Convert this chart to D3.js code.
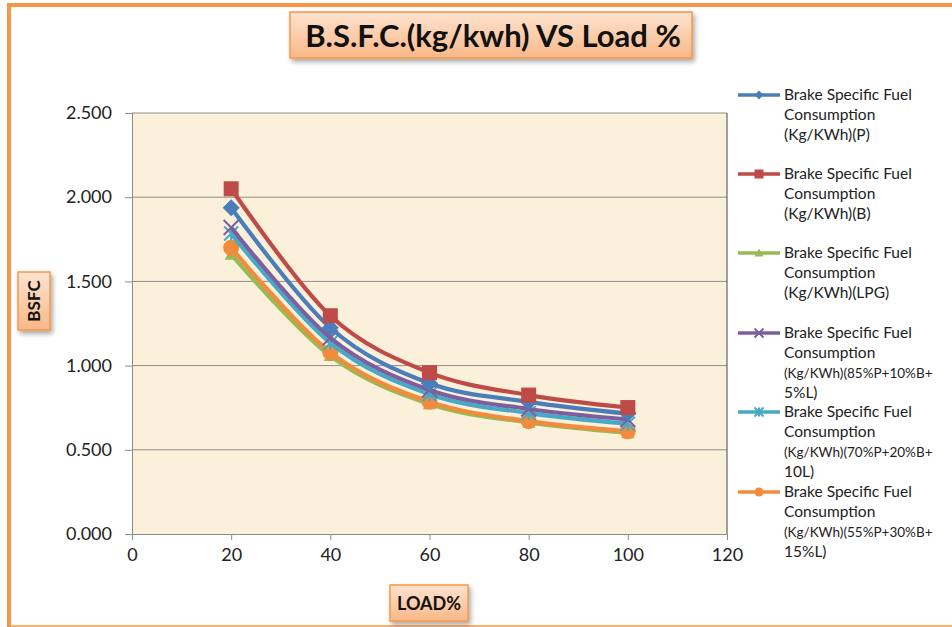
<!DOCTYPE html>
<html>
<head>
<meta charset="utf-8">
<script src="https://cdn.jsdelivr.net/npm/d3@7"></script>
<style>
  body { margin: 0; background: #fff; }
  svg { display: block; font-family: Lato, "Open Sans", sans-serif; }
</style>
</head>
<body>
<svg width="952" height="627"></svg>
<script>
// chart data
var loads = [20, 40, 60, 80, 100];
var bsfcP = [1.938, 1.225, 0.895, 0.785, 0.715];
var bsfcB = [2.050, 1.296, 0.958, 0.825, 0.751];
var bsfcLPG = [1.660, 1.058, 0.772, 0.662, 0.600];
var bsfc85 = [1.820, 1.165, 0.855, 0.742, 0.680];
var bsfc70 = [1.784, 1.135, 0.830, 0.718, 0.655];
var bsfc55 = [1.700, 1.078, 0.785, 0.670, 0.610];
var seriesNames = [
  ["Brake Specific Fuel", "Consumption", "(Kg/KWh)(P)"],
  ["Brake Specific Fuel", "Consumption", "(Kg/KWh)(B)"],
  ["Brake Specific Fuel", "Consumption", "(Kg/KWh)(LPG)"],
  ["Brake Specific Fuel", "Consumption", "(Kg/KWh)(85%P+10%B+", "5%L)"],
  ["Brake Specific Fuel", "Consumption", "(Kg/KWh)(70%P+20%B+", "10L)"],
  ["Brake Specific Fuel", "Consumption", "(Kg/KWh)(55%P+30%B+", "15%L)"]
];
var xTicks = [0, 20, 40, 60, 80, 100, 120];
var yTicks = [0, 0.5, 1, 1.5, 2, 2.5];

var colors = ["#4A7EBB", "#BE4B48", "#98B954", "#7D5FA0", "#46AAC5", "#F38B3C"];
var markers = ["diamond", "square", "triangle", "cross", "asterisk", "circle"];
var allSeries = [bsfcP, bsfcB, bsfcLPG, bsfc85, bsfc70, bsfc55];
// draw order: bottom to top like the picture (B on top)
var drawOrder = [2, 5, 4, 3, 0, 1];

var svg = d3.select("svg");
var defs = svg.append("defs");

var tg = defs.append("linearGradient").attr("id", "boxGrad")
  .attr("x1", 0).attr("y1", 0).attr("x2", 0).attr("y2", 1);
tg.append("stop").attr("offset", "0%").attr("stop-color", "#FDE3CF");
tg.append("stop").attr("offset", "100%").attr("stop-color", "#F9B888");

var sh = defs.append("filter").attr("id", "shadow")
  .attr("x", "-20%").attr("y", "-20%").attr("width", "140%").attr("height", "160%");
sh.append("feDropShadow").attr("dx", 2).attr("dy", 3).attr("stdDeviation", 2.5)
  .attr("flood-color", "#000").attr("flood-opacity", 0.35);

// outer chart frame
svg.append("rect")
  .attr("x", 9).attr("y", 5).attr("width", 960).attr("height", 625)
  .attr("fill", "#fff").attr("stroke", "#F79646").attr("stroke-width", 4);
svg.append("line").attr("x1", 9).attr("x2", 952).attr("y1", 626).attr("y2", 626)
  .attr("stroke", "#F79646").attr("stroke-width", 1.5);

var margin = { top: 113, left: 132 },
  width = 727 - 132,
  height = 534 - 113;

var x = d3.scaleLinear().domain([0, 120]).range([0, width]);
var y = d3.scaleLinear().domain([0, 2.5]).range([height, 0]);

var g = svg.append("g")
  .attr("transform", "translate(" + margin.left + "," + margin.top + ")");

g.append("rect")
  .attr("width", width).attr("height", height)
  .attr("fill", "#FBF0DA");

// gridlines
g.append("g")
  .selectAll("line")
  .data(yTicks.slice(1))
  .enter()
  .append("line")
  .attr("x1", 0).attr("x2", width)
  .attr("y1", function(d) { return y(d); })
  .attr("y2", function(d) { return y(d); })
  .attr("stroke", "#8C8C8C").attr("stroke-width", 1);

g.append("line").attr("x1", width).attr("x2", width).attr("y1", 0).attr("y2", height)
  .attr("stroke", "#444").attr("stroke-width", 1);

var yAxis = g.append("g")
  .call(d3.axisLeft(y).tickValues(yTicks).tickFormat(d3.format(".3f")).tickSize(6).tickPadding(14));
var xAxis = g.append("g")
  .attr("transform", "translate(0," + height + ")")
  .call(d3.axisBottom(x).tickValues(xTicks).tickSize(6).tickPadding(8));

[yAxis, xAxis].forEach(function(a) {
  a.select(".domain").attr("stroke", "#8C8C8C");
  a.selectAll(".tick line").attr("stroke", "#8C8C8C");
  a.selectAll("text").attr("fill", "#222").style("font-size", "18px")
    .style("font-family", "Lato, 'Open Sans', sans-serif");
});
yAxis.selectAll(".tick line").attr("x2", -7);

function markerPath(type, s) {
  var h = s / 2;
  if (type === "diamond") return "M0," + (-h) + "L" + h + ",0L0," + h + "L" + (-h) + ",0Z";
  if (type === "square") return "M" + (-h) + "," + (-h) + "h" + s + "v" + s + "h" + (-s) + "Z";
  if (type === "triangle") return "M0," + (-h) + "L" + h + "," + (h * 0.8) + "L" + (-h) + "," + (h * 0.8) + "Z";
  if (type === "cross") return "M" + (-h) + "," + (-h) + "L" + h + "," + h + "M" + h + "," + (-h) + "L" + (-h) + "," + h;
  if (type === "asterisk") return "M" + (-h) + "," + (-h) + "L" + h + "," + h + "M" + h + "," + (-h) + "L" + (-h) + "," + h + "M0," + (-h) + "V" + h;
  return null;
}

function drawMarker(sel, type, color, s) {
  if (type === "circle") {
    sel.append("circle").attr("r", s / 2).attr("fill", color);
  } else if (type === "cross" || type === "asterisk") {
    sel.append("path").attr("d", markerPath(type, s)).attr("fill", "none")
      .attr("stroke", color).attr("stroke-width", 2);
  } else {
    sel.append("path").attr("d", markerPath(type, s)).attr("fill", color);
  }
}

var line = d3.line()
  .x(function(d, i) { return x(loads[i]); })
  .y(function(d) { return y(d); })
  .curve(d3.curveCardinal.tension(0));

var markerSize = [17, 15, 13, 15, 14, 16];

drawOrder.forEach(function(k) {
  var sg = g.append("g");
  sg.append("path")
    .datum(allSeries[k])
    .attr("d", line)
    .attr("fill", "none")
    .attr("stroke", colors[k])
    .attr("stroke-width", 4.2);
  sg.selectAll(".pt")
    .data(allSeries[k])
    .enter()
    .append("g")
    .attr("transform", function(d, i) { return "translate(" + x(loads[i]) + "," + y(d) + ")"; })
    .each(function() { drawMarker(d3.select(this), markers[k], colors[k], markerSize[k]); });
});

// title
var tb = svg.append("g");
tb.append("rect").attr("x", 290).attr("y", 12).attr("width", 402).attr("height", 46)
  .attr("fill", "url(#boxGrad)").attr("stroke", "#F79646").attr("stroke-width", 1.5)
  .attr("filter", "url(#shadow)");
tb.append("text").attr("x", 493).attr("y", 47).attr("text-anchor", "middle")
  .style("font-size", "31px").style("font-weight", "bold").attr("fill", "#111")
  .text("B.S.F.C.(kg/kwh) VS Load %");

// y axis title
var yb = svg.append("g");
yb.append("rect").attr("x", 18).attr("y", 272).attr("width", 32).attr("height", 58)
  .attr("fill", "url(#boxGrad)").attr("stroke", "#F79646").attr("stroke-width", 1.5)
  .attr("filter", "url(#shadow)");
yb.append("text").attr("transform", "translate(40,301) rotate(-90)").attr("text-anchor", "middle")
  .style("font-size", "17px").style("font-weight", "bold").attr("fill", "#111").text("BSFC");

// x axis title
var xb = svg.append("g");
xb.append("rect").attr("x", 390).attr("y", 585).attr("width", 78).attr("height", 36)
  .attr("fill", "url(#boxGrad)").attr("stroke", "#F79646").attr("stroke-width", 1.5)
  .attr("filter", "url(#shadow)");
xb.append("text").attr("x", 429).attr("y", 610).attr("text-anchor", "middle")
  .style("font-size", "18px").style("font-weight", "bold").attr("fill", "#111").text("LOAD%");

// legend
var legendY = [95, 174, 253, 333, 412, 492];
var lg = svg.append("g");
seriesNames.forEach(function(lines, k) {
  var item = lg.append("g").attr("transform", "translate(738," + legendY[k] + ")");
  item.append("line").attr("x1", 0).attr("x2", 42).attr("y1", 0).attr("y2", 0)
    .attr("stroke", colors[k]).attr("stroke-width", 3.5);
  item.append("g").attr("transform", "translate(21,0)")
    .each(function() { drawMarker(d3.select(this), markers[k], colors[k], 9); });
  item.append("text").attr("x", 46).attr("y", 5)
    .style("font-size", "15.5px").attr("fill", "#222")
    .selectAll("tspan")
    .data(lines)
    .enter()
    .append("tspan")
    .attr("x", 46)
    .attr("dy", function(d, i) { return i === 0 ? 0 : 20; })
    .style("font-size", function(d) { return d.length > 16 && d.indexOf("%") >= 0 ? "13.5px" : null; })
    .text(function(d) { return d; });
});
</script>
</body>
</html>
